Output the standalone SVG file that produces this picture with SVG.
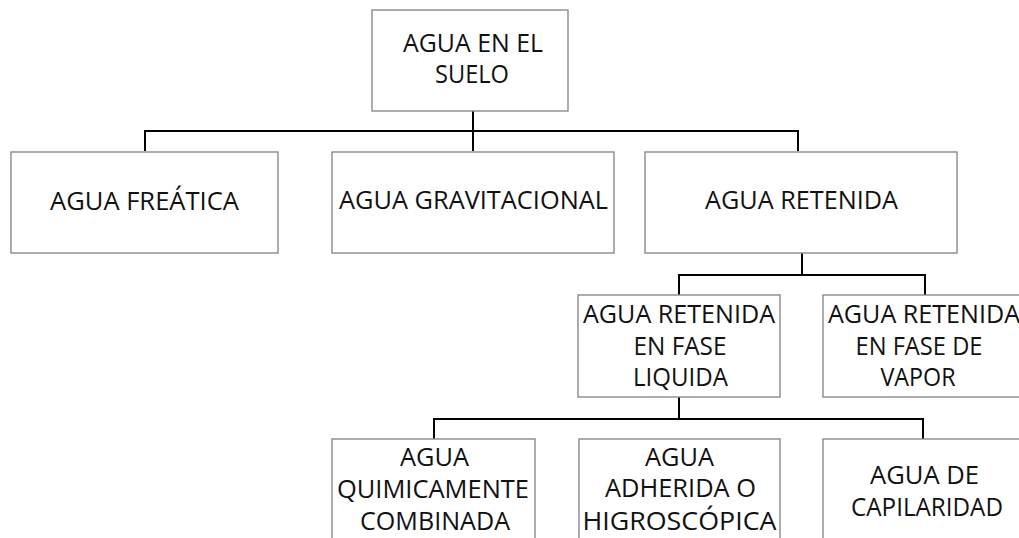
<svg xmlns="http://www.w3.org/2000/svg" width="1019" height="538" viewBox="0 0 1019 538">
<style>
.box{fill:#fff;stroke:#8a8a8a;stroke-width:1.4}
.conn{fill:none;stroke:#000;stroke-width:2}
text{font-family:"Open Sans","Noto Sans","Liberation Sans",sans-serif;font-size:25px;fill:#111;text-anchor:middle}
</style>
<rect width="1019" height="538" fill="#fff"/>
<g id="connectors">
<path class="conn" d="M473,111 V131 M145,151 V131 H798 V151 M473,131 V151"/>
<path class="conn" d="M802,253 V275 M679,295 V275 H925 V295"/>
<path class="conn" d="M679,397 V419 M434,439 V419 H923 V439"/>
</g>
<g id="n-suelo">
<rect class="box" x="372" y="10" width="196" height="101"/>
<text x="473" y="52" textLength="140" lengthAdjust="spacingAndGlyphs">AGUA EN EL</text>
<text x="472" y="83" textLength="74" lengthAdjust="spacingAndGlyphs">SUELO</text>
</g>
<g id="n-freatica">
<rect class="box" x="11" y="152" width="267" height="101"/>
<text x="144.5" y="210" textLength="189" lengthAdjust="spacingAndGlyphs">AGUA FREÁTICA</text>
</g>
<g id="n-gravitacional">
<rect class="box" x="332" y="152" width="282" height="101"/>
<text x="473.5" y="209" textLength="269" lengthAdjust="spacingAndGlyphs">AGUA GRAVITACIONAL</text>
</g>
<g id="n-retenida">
<rect class="box" x="645" y="152" width="312" height="101"/>
<text x="801.5" y="209" textLength="193" lengthAdjust="spacingAndGlyphs">AGUA RETENIDA</text>
</g>
<g id="n-liquida">
<rect class="box" x="578" y="295" width="202" height="102"/>
<text x="679" y="323" textLength="192" lengthAdjust="spacingAndGlyphs">AGUA RETENIDA</text>
<text x="680" y="355" textLength="93" lengthAdjust="spacingAndGlyphs">EN FASE</text>
<text x="680.5" y="386" textLength="95" lengthAdjust="spacingAndGlyphs">LIQUIDA</text>
</g>
<g id="n-vapor">
<rect class="box" x="823" y="295" width="204" height="102"/>
<text x="924" y="323" textLength="192" lengthAdjust="spacingAndGlyphs">AGUA RETENIDA</text>
<text x="919" y="355" textLength="127" lengthAdjust="spacingAndGlyphs">EN FASE DE</text>
<text x="918" y="386" textLength="75" lengthAdjust="spacingAndGlyphs">VAPOR</text>
</g>
<g id="n-quimica">
<rect class="box" x="332" y="439" width="203" height="110"/>
<text x="434.5" y="466" textLength="69" lengthAdjust="spacingAndGlyphs">AGUA</text>
<text x="433" y="498" textLength="192" lengthAdjust="spacingAndGlyphs">QUIMICAMENTE</text>
<text x="435" y="530" textLength="150" lengthAdjust="spacingAndGlyphs">COMBINADA</text>
</g>
<g id="n-higroscopica">
<rect class="box" x="579" y="439" width="201" height="110"/>
<text x="679.5" y="466" textLength="69" lengthAdjust="spacingAndGlyphs">AGUA</text>
<text x="680.5" y="497" textLength="151" lengthAdjust="spacingAndGlyphs">ADHERIDA O</text>
<text x="679.5" y="530" textLength="194" lengthAdjust="spacingAndGlyphs">HIGROSCÓPICA</text>
</g>
<g id="n-capilaridad">
<rect class="box" x="823" y="439" width="206" height="110"/>
<text x="924.5" y="484" textLength="109" lengthAdjust="spacingAndGlyphs">AGUA DE</text>
<text x="927" y="516" textLength="152" lengthAdjust="spacingAndGlyphs">CAPILARIDAD</text>
</g>
</svg>
